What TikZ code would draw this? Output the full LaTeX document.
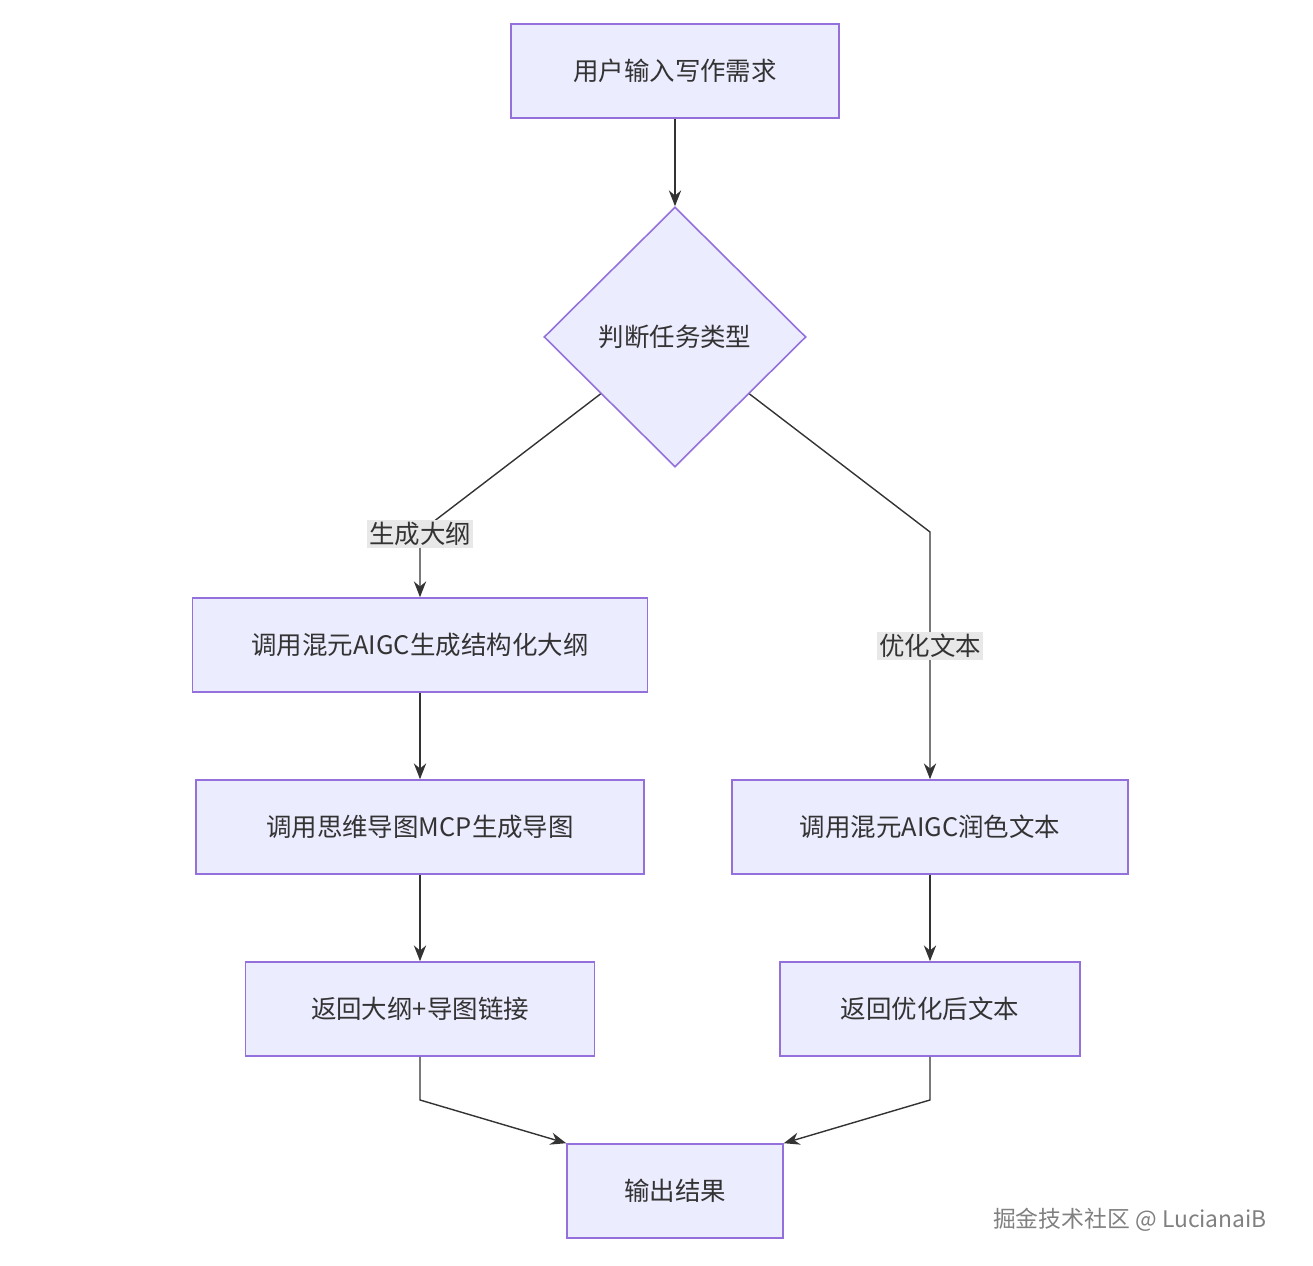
\documentclass[tikz,border=0pt]{standalone}
\usepackage{fontspec}
\setmainfont{Noto Sans CJK SC}
\usepackage{xcolor}
\usetikzlibrary{positioning,shapes.geometric,arrows.meta}
\definecolor{boxfill}{HTML}{ECECFF}
\definecolor{boxline}{HTML}{9370DB}
\definecolor{edge}{HTML}{333333}
\definecolor{labelbg}{HTML}{E8E8E8}

\begin{document}
\begin{tikzpicture}[
        x=0.02cm, y=-0.02cm,
        every node/.style={
            font=\fontsize{14.5}{17}\selectfont,
            text=edge
        },
        proc/.style={
            rectangle,
            draw=boxline,
            fill=boxfill,
            line width=0.9pt,
            minimum height=1.88cm
        },
        choice/.style={
            diamond,
            draw=boxline,
            fill=boxfill,
            line width=0.9pt,
            minimum width=5.24cm,
            minimum height=5.2cm,
            inner sep=0pt
        },
        arrow/.style={
            -{Stealth[length=9pt,width=7pt]},
            line width=0.8pt,
            color=edge
        },
        tag/.style={
            fill=labelbg,
            inner sep=1pt
        }
    ]
        \useasboundingbox (0,0) rectangle (1313,1266);

        % Top
        \node[proc, minimum width=6.56cm] (input) at (675,71) {用户输入写作需求};
        \node[choice] (kind) at (675,337) {判断任务类型};

        % Left: outline path
        \node[proc, minimum width=9.1cm] (outline) at (420,645) {调用混元AIGC生成结构化大纲};
        \node[proc, minimum width=8.96cm] (mindmap) at (420,827) {调用思维导图MCP生成导图};
        \node[proc, minimum width=6.98cm] (retlink) at (420,1009) {返回大纲+导图链接};

        % Right: polish path
        \node[proc, minimum width=7.92cm] (polish) at (930,827) {调用混元AIGC润色文本};
        \node[proc, minimum width=6cm] (rettext) at (930,1009) {返回优化后文本};

        % Merge
        \node[proc, minimum width=4.32cm] (result) at (675,1191) {输出结果};

        \coordinate (lbend) at (420,532);
        \coordinate (rbend) at (930,532);
        \coordinate (ljoin) at (420,1100);
        \coordinate (rjoin) at (930,1100);

        \draw[arrow] (input) -- (kind);
        \draw[arrow] (kind) -- (lbend) -- (outline.north);
        \node[tag] (lbl) at (420,534) {生成大纲};
        \draw[arrow] (kind) -- (rbend) -- (polish.north);
        \node[tag] (rbl) at (930,646) {优化文本};
        \draw[arrow] (outline) -- (mindmap);
        \draw[arrow] (mindmap) -- (retlink);
        \draw[arrow] (polish) -- (rettext);
        \draw[arrow] (retlink.south) -- (ljoin) -- (result.north west);
        \draw[arrow] (rettext.south) -- (rjoin) -- (result.north east);

        % Watermark
        \node[text=gray, font=\fontsize{13}{15}\selectfont] (mark) at (1130,1220) {掘金技术社区 @ LucianaiB};
    \end{tikzpicture}
\end{document}
